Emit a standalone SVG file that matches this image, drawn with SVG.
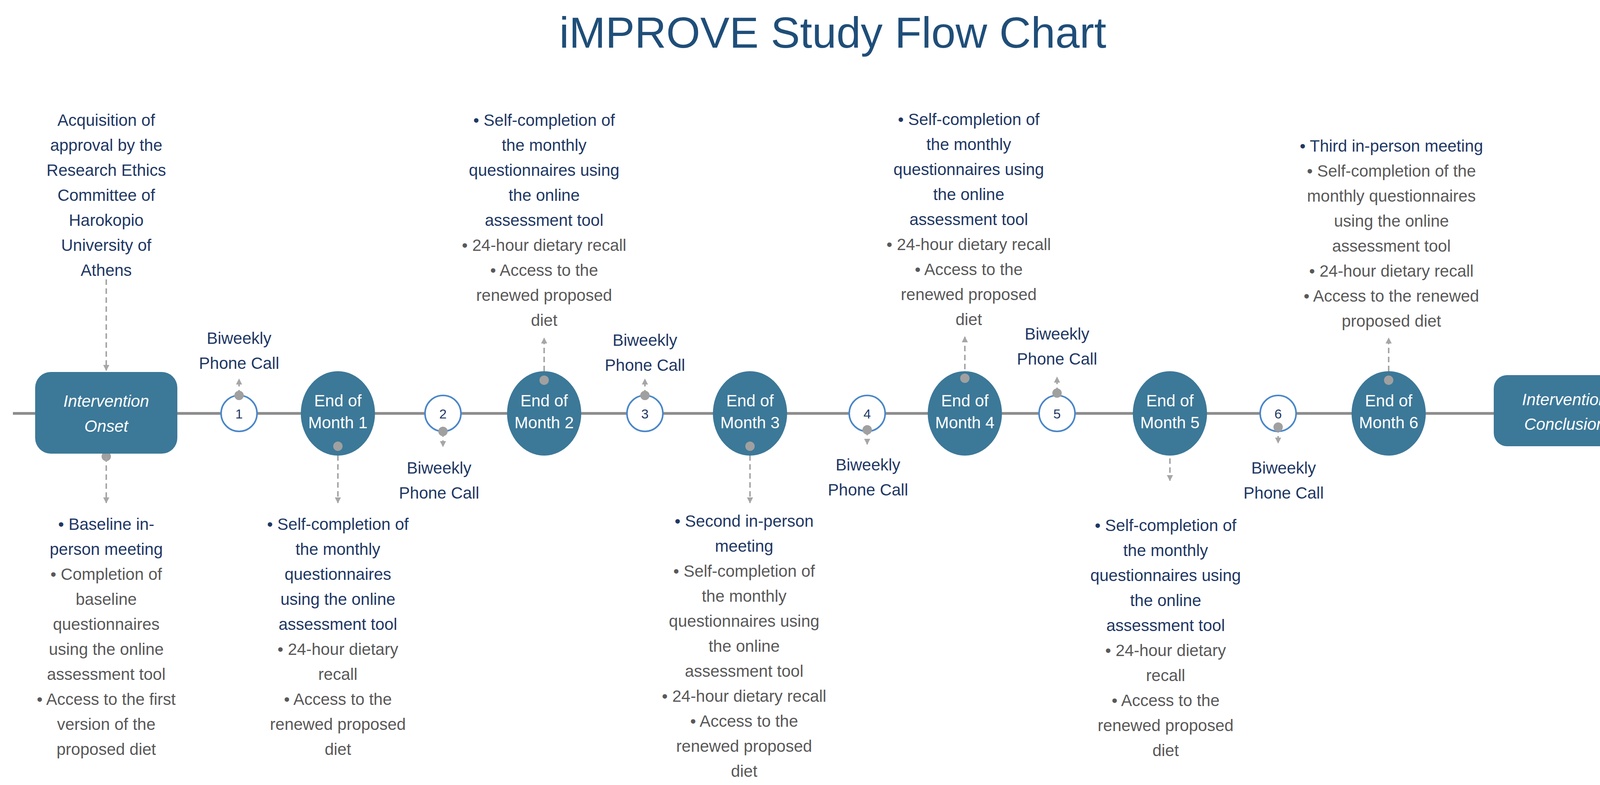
<svg xmlns="http://www.w3.org/2000/svg" width="4264" height="2009" viewBox="0 0 4264 2009">
<defs>
<marker id="ah" viewBox="0 0 10 10" refX="9" refY="5" markerWidth="4" markerHeight="4" orient="auto"><path d="M0,0 L10,5 L0,10 z" fill="#A6A6A6"/></marker>
<marker id="ahm" viewBox="0 0 10 10" refX="9" refY="5" markerWidth="5" markerHeight="5" orient="auto"><path d="M0,0 L10,5 L0,10 z" fill="#8C8C8C"/></marker>
<style>
text{font-family:"Liberation Sans",Arial,sans-serif;}
.t{font-size:42px;text-anchor:middle;fill:#595959;}
.n{fill:#1F3864;}
.w{font-size:42px;text-anchor:middle;fill:#fff;}
.box{fill:#3C7898;}
.sc{fill:#fff;stroke:#4A86C8;stroke-width:4;}
.d{stroke:#A6A6A6;stroke-width:4;stroke-dasharray:14 9;fill:none;marker-end:url(#ah);}
.dot{fill:#A0A0A0;}
</style>
</defs>
<rect width="4264" height="2009" fill="#fff"/>
<text x="2132" y="122" style="font-size:112px;text-anchor:middle;fill:#1F4E79">iMPROVE Study Flow Chart</text>

<g id="connectors">
<line x1="33" y1="1058" x2="4228" y2="1058" stroke="#8C8C8C" stroke-width="7" marker-end="url(#ahm)"/>
<line class="d" x1="272" y1="715" x2="272" y2="948"/>
<circle class="dot" cx="272" cy="1168" r="12"/><line class="d" x1="272" y1="1168" x2="272" y2="1287"/>
<line class="d" x1="612" y1="1012" x2="612" y2="970"/>
<line class="d" x1="865" y1="1142" x2="865" y2="1287"/>
<line class="d" x1="1134" y1="1104" x2="1134" y2="1143"/>
<line class="d" x1="1393" y1="973" x2="1393" y2="865"/>
<line class="d" x1="1651" y1="1012" x2="1651" y2="970"/>
<line class="d" x1="1920" y1="1142" x2="1920" y2="1287"/>
<line class="d" x1="2220" y1="1100" x2="2220" y2="1137"/>
<line class="d" x1="2470" y1="968" x2="2470" y2="862"/>
<line class="d" x1="2706" y1="1006" x2="2706" y2="965"/>
<line class="d" x1="2995" y1="1150" x2="2995" y2="1230"/>
<line class="d" x1="3272" y1="1093" x2="3272" y2="1134"/>
<line class="d" x1="3555" y1="973" x2="3555" y2="865"/>
</g>

<g id="onset"><rect class="box" x="90" y="952" width="364" height="209" rx="40"/>
<text class="w" x="272" y="1041" font-style="italic">Intervention</text><text class="w" x="272" y="1105" font-style="italic">Onset</text></g>
<g id="conclusion"><rect class="box" x="3824" y="960" width="365" height="182" rx="34"/>
<text class="w" x="4006" y="1037" font-style="italic">Intervention</text><text class="w" x="4006" y="1100" font-style="italic">Conclusion</text></g>

<g id="c1"><circle class="sc" cx="612" cy="1058" r="46"/><text class="t n" x="612" y="1071" style="font-size:34px">1</text></g>
<g id="c2"><circle class="sc" cx="1134" cy="1058" r="46"/><text class="t n" x="1134" y="1071" style="font-size:34px">2</text></g>
<g id="c3"><circle class="sc" cx="1651" cy="1058" r="46"/><text class="t n" x="1651" y="1071" style="font-size:34px">3</text></g>
<g id="c4"><circle class="sc" cx="2220" cy="1058" r="46"/><text class="t n" x="2220" y="1071" style="font-size:34px">4</text></g>
<g id="c5"><circle class="sc" cx="2706" cy="1058" r="46"/><text class="t n" x="2706" y="1071" style="font-size:34px">5</text></g>
<g id="c6"><circle class="sc" cx="3272" cy="1058" r="46"/><text class="t n" x="3272" y="1071" style="font-size:34px">6</text></g>

<g id="m1"><ellipse class="box" cx="865" cy="1058" rx="95" ry="108"/><text class="w" x="865" y="1040">End of</text><text class="w" x="865" y="1096">Month 1</text></g>
<g id="m2"><ellipse class="box" cx="1393" cy="1058" rx="95" ry="108"/><text class="w" x="1393" y="1040">End of</text><text class="w" x="1393" y="1096">Month 2</text></g>
<g id="m3"><ellipse class="box" cx="1920" cy="1058" rx="95" ry="108"/><text class="w" x="1920" y="1040">End of</text><text class="w" x="1920" y="1096">Month 3</text></g>
<g id="m4"><ellipse class="box" cx="2470" cy="1058" rx="95" ry="108"/><text class="w" x="2470" y="1040">End of</text><text class="w" x="2470" y="1096">Month 4</text></g>
<g id="m5"><ellipse class="box" cx="2995" cy="1058" rx="95" ry="108"/><text class="w" x="2995" y="1040">End of</text><text class="w" x="2995" y="1096">Month 5</text></g>
<g id="m6"><ellipse class="box" cx="3555" cy="1058" rx="95" ry="108"/><text class="w" x="3555" y="1040">End of</text><text class="w" x="3555" y="1096">Month 6</text></g>

<g id="dots">
<circle class="dot" cx="612" cy="1012" r="12"/><circle class="dot" cx="865" cy="1142" r="12"/>
<circle class="dot" cx="1134" cy="1104" r="12"/><circle class="dot" cx="1393" cy="973" r="12"/>
<circle class="dot" cx="1651" cy="1012" r="12"/><circle class="dot" cx="1920" cy="1142" r="12"/>
<circle class="dot" cx="2220" cy="1100" r="12"/><circle class="dot" cx="2470" cy="968" r="12"/>
<circle class="dot" cx="2706" cy="1006" r="12"/><circle class="dot" cx="3272" cy="1093" r="12"/>
<circle class="dot" cx="3555" cy="973" r="12"/>
</g>

<g id="approval"><text class="t n" x="272" y="322"><tspan x="272">Acquisition of</tspan><tspan x="272" dy="64">approval by the</tspan><tspan x="272" dy="64">Research Ethics</tspan><tspan x="272" dy="64">Committee of</tspan><tspan x="272" dy="64">Harokopio</tspan><tspan x="272" dy="64">University of</tspan><tspan x="272" dy="64">Athens</tspan></text></g>

<g id="onset-tasks"><text class="t" x="272" y="1356"><tspan x="272" class="n">• Baseline in-</tspan><tspan x="272" dy="64" class="n">person meeting</tspan><tspan x="272" dy="64">• Completion of</tspan><tspan x="272" dy="64">baseline</tspan><tspan x="272" dy="64">questionnaires</tspan><tspan x="272" dy="64">using the online</tspan><tspan x="272" dy="64">assessment tool</tspan><tspan x="272" dy="64">• Access to the first</tspan><tspan x="272" dy="64">version of the</tspan><tspan x="272" dy="64">proposed diet</tspan></text></g>

<g id="b1"><text class="t n" x="612" y="880"><tspan x="612">Biweekly</tspan><tspan x="612" dy="64">Phone Call</tspan></text></g>
<g id="b2"><text class="t n" x="1124" y="1212"><tspan x="1124">Biweekly</tspan><tspan x="1124" dy="64">Phone Call</tspan></text></g>
<g id="b3"><text class="t n" x="1651" y="885"><tspan x="1651">Biweekly</tspan><tspan x="1651" dy="64">Phone Call</tspan></text></g>
<g id="b4"><text class="t n" x="2222" y="1204"><tspan x="2222">Biweekly</tspan><tspan x="2222" dy="64">Phone Call</tspan></text></g>
<g id="b5"><text class="t n" x="2706" y="869"><tspan x="2706">Biweekly</tspan><tspan x="2706" dy="64">Phone Call</tspan></text></g>
<g id="b6"><text class="t n" x="3286" y="1212"><tspan x="3286">Biweekly</tspan><tspan x="3286" dy="64">Phone Call</tspan></text></g>

<g id="m1-tasks"><text class="t" x="865" y="1356"><tspan x="865" class="n">• Self-completion of</tspan><tspan x="865" dy="64" class="n">the monthly</tspan><tspan x="865" dy="64" class="n">questionnaires</tspan><tspan x="865" dy="64" class="n">using the online</tspan><tspan x="865" dy="64" class="n">assessment tool</tspan><tspan x="865" dy="64">• 24-hour dietary</tspan><tspan x="865" dy="64">recall</tspan><tspan x="865" dy="64">• Access to the</tspan><tspan x="865" dy="64">renewed proposed</tspan><tspan x="865" dy="64">diet</tspan></text></g>

<g id="m2-tasks"><text class="t" x="1393" y="322"><tspan x="1393" class="n">• Self-completion of</tspan><tspan x="1393" dy="64" class="n">the monthly</tspan><tspan x="1393" dy="64" class="n">questionnaires using</tspan><tspan x="1393" dy="64" class="n">the online</tspan><tspan x="1393" dy="64" class="n">assessment tool</tspan><tspan x="1393" dy="64">• 24-hour dietary recall</tspan><tspan x="1393" dy="64">• Access to the</tspan><tspan x="1393" dy="64">renewed proposed</tspan><tspan x="1393" dy="64">diet</tspan></text></g>

<g id="m3-tasks"><text class="t" x="1905" y="1348"><tspan x="1905" class="n">• Second in-person</tspan><tspan x="1905" dy="64" class="n">meeting</tspan><tspan x="1905" dy="64">• Self-completion of</tspan><tspan x="1905" dy="64">the monthly</tspan><tspan x="1905" dy="64">questionnaires using</tspan><tspan x="1905" dy="64">the online</tspan><tspan x="1905" dy="64">assessment tool</tspan><tspan x="1905" dy="64">• 24-hour dietary recall</tspan><tspan x="1905" dy="64">• Access to the</tspan><tspan x="1905" dy="64">renewed proposed</tspan><tspan x="1905" dy="64">diet</tspan></text></g>

<g id="m4-tasks"><text class="t" x="2480" y="320"><tspan x="2480" class="n">• Self-completion of</tspan><tspan x="2480" dy="64" class="n">the monthly</tspan><tspan x="2480" dy="64" class="n">questionnaires using</tspan><tspan x="2480" dy="64" class="n">the online</tspan><tspan x="2480" dy="64" class="n">assessment tool</tspan><tspan x="2480" dy="64">• 24-hour dietary recall</tspan><tspan x="2480" dy="64">• Access to the</tspan><tspan x="2480" dy="64">renewed proposed</tspan><tspan x="2480" dy="64">diet</tspan></text></g>

<g id="m5-tasks"><text class="t" x="2984" y="1359"><tspan x="2984" class="n">• Self-completion of</tspan><tspan x="2984" dy="64" class="n">the monthly</tspan><tspan x="2984" dy="64" class="n">questionnaires using</tspan><tspan x="2984" dy="64" class="n">the online</tspan><tspan x="2984" dy="64" class="n">assessment tool</tspan><tspan x="2984" dy="64">• 24-hour dietary</tspan><tspan x="2984" dy="64">recall</tspan><tspan x="2984" dy="64">• Access to the</tspan><tspan x="2984" dy="64">renewed proposed</tspan><tspan x="2984" dy="64">diet</tspan></text></g>

<g id="m6-tasks"><text class="t" x="3562" y="388"><tspan x="3562" class="n">• Third in-person meeting</tspan><tspan x="3562" dy="64">• Self-completion of the</tspan><tspan x="3562" dy="64">monthly questionnaires</tspan><tspan x="3562" dy="64">using the online</tspan><tspan x="3562" dy="64">assessment tool</tspan><tspan x="3562" dy="64">• 24-hour dietary recall</tspan><tspan x="3562" dy="64">• Access to the renewed</tspan><tspan x="3562" dy="64">proposed diet</tspan></text></g>
</svg>
